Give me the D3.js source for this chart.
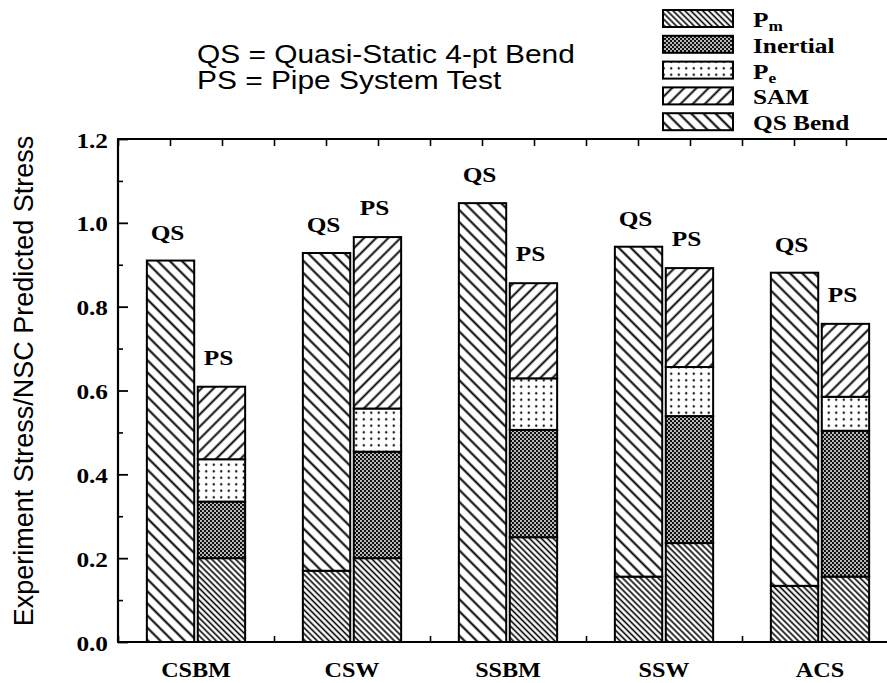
<!DOCTYPE html>
<html><head><meta charset="utf-8">
<script src="https://cdn.jsdelivr.net/npm/d3@7"></script>
<style>body{margin:0;background:#fff;} svg{display:block;}</style>
</head><body>
<script>
const categories = ["CSBM", "CSW", "SSBM", "SSW", "ACS"];
// Quasi-static bend bars (segment values)
const qsPm   = [0.000, 0.170, 0.000, 0.156, 0.134];
const qsBend = [0.910, 0.758, 1.047, 0.787, 0.747];
// Pipe-system bars (segment values)
const psPm       = [0.200, 0.200, 0.250, 0.236, 0.156];
const psInertial = [0.135, 0.254, 0.256, 0.303, 0.348];
const psPe       = [0.101, 0.103, 0.123, 0.117, 0.081];
const psSAM      = [0.173, 0.409, 0.227, 0.236, 0.174];
const barLabels = ["QS", "PS"];
const yMajor = [0.0, 0.2, 0.4, 0.6, 0.8, 1.0, 1.2];
const yMinor = [0.1, 0.3, 0.5, 0.7, 0.9, 1.1];
const legendKeys = ["Pm", "Inertial", "Pe", "SAM", "QSBend"];
const legendNames = [["P", "m"], ["Inertial", ""], ["P", "e"], ["SAM", ""], ["QS Bend", ""]];
const noteLines = ["QS = Quasi-Static 4-pt Bend", "PS = Pipe System Test"];
const yTitle = "Experiment Stress/NSC Predicted Stress";

const W = 887, H = 683;
const L = 118, T = 139, B = 642, R = L + 5 * 156;
const SX = 1.15;
const serif = "'Liberation Serif','Times New Roman',serif";
const sans = "'Liberation Sans',Arial,sans-serif";

const svg = d3.select("body").append("svg").attr("width", W).attr("height", H);
svg.append("rect").attr("width", W).attr("height", H).attr("fill", "#fff");

const defs = svg.append("defs");
function hatch(id, size, angle, sw) {
  const p = defs.append("pattern").attr("id", id).attr("patternUnits", "userSpaceOnUse")
    .attr("width", size).attr("height", size).attr("patternTransform", `rotate(${angle})`);
  p.append("rect").attr("width", size).attr("height", size).attr("fill", "#fff");
  p.append("line").attr("x1", size / 2).attr("x2", size / 2).attr("y1", -1).attr("y2", size + 1)
    .attr("stroke", "#000").attr("stroke-width", sw);
}
hatch("pat-Pm", 4.2, -45, 1.6);
hatch("pat-QSBend", 8.6, -45, 2.0);
hatch("pat-SAM", 8.6, 45, 1.9);
{
  const p = defs.append("pattern").attr("id", "pat-Inertial").attr("patternUnits", "userSpaceOnUse")
    .attr("width", 4).attr("height", 4);
  p.append("rect").attr("width", 4).attr("height", 4).attr("fill", "#111");
  p.append("circle").attr("cx", 1).attr("cy", 1).attr("r", 0.95).attr("fill", "#fff");
  p.append("circle").attr("cx", 3).attr("cy", 3).attr("r", 0.95).attr("fill", "#fff");
}
{
  const p = defs.append("pattern").attr("id", "pat-Pe").attr("patternUnits", "userSpaceOnUse")
    .attr("width", 7.5).attr("height", 6.5);
  p.append("rect").attr("width", 7.5).attr("height", 6.5).attr("fill", "#fff");
  p.append("circle").attr("cx", 3.75).attr("cy", 3.25).attr("r", 1.15).attr("fill", "#000");
}

const x = d3.scaleBand().domain(categories).range([L, R]).paddingInner(0.37).paddingOuter(0.185);
const xs = d3.scaleBand().domain(barLabels).range([0, x.bandwidth()]).paddingInner(0.07);
const y = d3.scaleLinear().domain([0, 1.2]).range([B, T]);

const qsRows = categories.map((c, i) => ({ cat: c, Pm: qsPm[i], QSBend: qsBend[i] }));
const psRows = categories.map((c, i) => ({ cat: c, Pm: psPm[i], Inertial: psInertial[i], Pe: psPe[i], SAM: psSAM[i] }));
const qsStack = d3.stack().keys(["Pm", "QSBend"])(qsRows);
const psStack = d3.stack().keys(["Pm", "Inertial", "Pe", "SAM"])(psRows);

// bottom & top third ticks (drawn under bars)
const xt = d3.scaleLinear().domain([0, 15]).range([L, R]);
svg.append("g").attr("transform", `translate(0,${B})`)
  .call(d3.axisBottom(xt).tickValues(d3.range(0, 16)).tickSize(-6).tickFormat(""))
  .call(g => g.select(".domain").remove())
  .call(g => g.selectAll("line").attr("stroke-width", 1.6));
svg.append("g").attr("transform", `translate(0,${T})`)
  .call(d3.axisTop(xt).tickValues(d3.range(0, 16)).tickSize(-7).tickFormat(""))
  .call(g => g.select(".domain").remove())
  .call(g => g.selectAll("line").attr("stroke-width", 1.6));

function drawStack(stack, which) {
  const g = svg.append("g");
  stack.forEach(layer => {
    g.selectAll(null).data(layer.filter(d => d[1] - d[0] > 0)).join("rect")
      .attr("x", d => x(d.data.cat) + xs(which))
      .attr("width", xs.bandwidth())
      .attr("y", d => y(d[1]))
      .attr("height", d => y(d[0]) - y(d[1]))
      .attr("fill", `url(#pat-${layer.key})`)
      .attr("stroke", "#000").attr("stroke-width", 2);
  });
}
drawStack(qsStack, "QS");
drawStack(psStack, "PS");

function stext(parent, px, py, str, size, anchor, family, weight) {
  return parent.append("text").attr("transform", `translate(${px},${py}) scale(${SX},1)`)
    .attr("text-anchor", anchor).attr("font-family", family).attr("font-weight", weight)
    .attr("font-size", size).attr("fill", "#000").text(str);
}

// bar labels
const lab = svg.append("g");
categories.forEach((c, i) => {
  const qTop = qsStack[qsStack.length - 1][i][1];
  const pTop = psStack[psStack.length - 1][i][1];
  stext(lab, x(c) + xs("QS") + xs.bandwidth() / 2 - 3, y(qTop) - 21, "QS", 22, "middle", serif, "bold");
  stext(lab, x(c) + xs("PS") + xs.bandwidth() / 2 - 3, y(pTop) - 22, "PS", 22, "middle", serif, "bold");
  stext(lab, x(c) + x.bandwidth() / 2, 677, c, 21, "middle", serif, "bold");
});

// y axis
svg.append("g").attr("transform", `translate(${L},0)`)
  .call(d3.axisLeft(y).tickValues(yMinor).tickSize(-5).tickFormat(""))
  .call(g => g.select(".domain").remove())
  .call(g => g.selectAll("line").attr("stroke-width", 1.6));
svg.append("g").attr("transform", `translate(${L},0)`)
  .call(d3.axisLeft(y).tickValues(yMajor).tickSize(-10).tickPadding(10).tickFormat(d3.format(".1f")))
  .call(g => g.select(".domain").remove())
  .call(g => g.selectAll("line").attr("stroke-width", 1.8))
  .call(g => g.selectAll("text").attr("x", null).attr("dy", null)
    .attr("transform", `translate(-10,8) scale(${SX},1)`)
    .attr("font-family", serif).attr("font-weight", "bold").attr("font-size", 22).attr("fill", "#000"));

// frame lines
svg.append("line").attr("x1", L).attr("x2", L).attr("y1", T).attr("y2", B).attr("stroke", "#000").attr("stroke-width", 2.2);
svg.append("line").attr("x1", L - 1).attr("x2", W).attr("y1", B).attr("y2", B).attr("stroke", "#000").attr("stroke-width", 2.2);
svg.append("line").attr("x1", L - 1).attr("x2", W).attr("y1", T).attr("y2", T).attr("stroke", "#000").attr("stroke-width", 2.2);

// y title
svg.append("text").attr("transform", `translate(33,381) rotate(-90)`)
  .attr("text-anchor", "middle").attr("font-family", sans).attr("font-size", 27).attr("fill", "#000").text(yTitle);

// note
stext(svg, 197, 63, noteLines[0], 26, "start", sans, "normal");
stext(svg, 197, 89, noteLines[1], 26, "start", sans, "normal");

// legend
const lg = svg.append("g");
legendKeys.forEach((k, i) => {
  const yy = 10 + i * 25.8;
  lg.append("rect").attr("x", 663).attr("y", yy).attr("width", 70).attr("height", 17)
    .attr("fill", `url(#pat-${k})`).attr("stroke", "#000").attr("stroke-width", 2);
  const t = stext(lg, 753, yy + 17, "", 22, "start", serif, "bold");
  t.append("tspan").text(legendNames[i][0]);
  if (legendNames[i][1]) t.append("tspan").attr("font-size", 15).attr("dy", 4).text(legendNames[i][1]);
});
</script>
</body></html>
